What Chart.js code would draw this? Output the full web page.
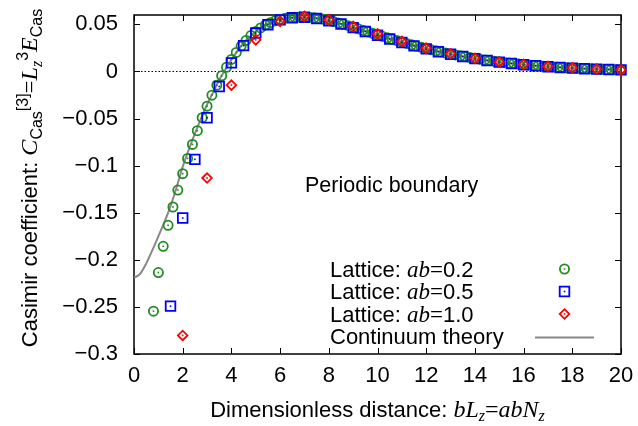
<!DOCTYPE html>
<html>
<head>
<meta charset="utf-8">
<script src="https://cdn.jsdelivr.net/npm/chart.js@4.4.1/dist/chart.umd.min.js"></script>
<style>
  html, body { margin: 0; padding: 0; background: #fff; }
  canvas { display: block; }
</style>
</head>
<body>
<canvas id="casimir" width="638" height="426"></canvas>
<script>
const SANS = '"Liberation Sans", Arial, sans-serif';
const SERIF = '"Liberation Serif", "Times New Roman", serif';

// axis ticks
const xTicks = [0, 2, 4, 6, 8, 10, 12, 14, 16, 18, 20];
const yTicks = [-0.3, -0.25, -0.2, -0.15, -0.1, -0.05, 0, 0.05];
const yTickLabels = ['\u22120.3', '\u22120.25', '\u22120.2', '\u22120.15', '\u22120.1', '\u22120.05', '0', '0.05'];

// Lattice, ab = 0.2
const latt02X = [0.8, 1.0, 1.2, 1.4, 1.6, 1.8, 2.0, 2.2, 2.4, 2.6,
  2.8, 3.0, 3.2, 3.4, 3.6, 3.8, 4.0, 4.2, 4.4, 4.6,
  4.8, 5.0, 5.2, 5.4, 5.6, 5.8, 6.0, 6.2, 6.4, 6.6,
  6.8, 7.0, 7.2, 7.4, 7.6, 7.8, 8.0, 8.2, 8.4, 8.6,
  8.8, 9.0, 9.2, 9.4, 9.6, 9.8, 10.0, 10.2, 10.4, 10.6,
  10.8, 11.0, 11.2, 11.4, 11.6, 11.8, 12.0, 12.2, 12.4, 12.6,
  12.8, 13.0, 13.2, 13.4, 13.6, 13.8, 14.0, 14.2, 14.4, 14.6,
  14.8, 15.0, 15.2, 15.4, 15.6, 15.8, 16.0, 16.2, 16.4, 16.6,
  16.8, 17.0, 17.2, 17.4, 17.6, 17.8, 18.0, 18.2, 18.4, 18.6,
  18.8, 19.0, 19.2, 19.4, 19.6, 19.8, 20.0];
const latt02Y = [-0.2545, -0.2135, -0.1856, -0.1633, -0.1439, -0.1259, -0.1085, -0.0923, -0.0774, -0.0629,
  -0.0491, -0.0368, -0.0251, -0.0145, -0.0045, 0.0045, 0.0128, 0.0203, 0.0270, 0.0330,
  0.0382, 0.0425, 0.0463, 0.0494, 0.0519, 0.0540, 0.0555, 0.0566, 0.0573, 0.0577,
  0.0579, 0.0578, 0.0575, 0.0570, 0.0563, 0.0554, 0.0543, 0.0530, 0.0516, 0.0501,
  0.0486, 0.0470, 0.0454, 0.0438, 0.0422, 0.0406, 0.0390, 0.0374, 0.0358, 0.0343,
  0.0328, 0.0313, 0.0298, 0.0284, 0.0270, 0.0257, 0.0244, 0.0232, 0.0220, 0.0208,
  0.0197, 0.0186, 0.0176, 0.0166, 0.0157, 0.0148, 0.0139, 0.0131, 0.0123, 0.0116,
  0.0109, 0.0102, 0.0096, 0.0090, 0.0084, 0.0079, 0.0074, 0.0069, 0.0065, 0.0060,
  0.0056, 0.0053, 0.0049, 0.0046, 0.0043, 0.0040, 0.0037, 0.0035, 0.0032, 0.0030,
  0.0028, 0.0026, 0.0024, 0.0022, 0.0021, 0.0019, 0.0018];

// Lattice, ab = 0.5
const latt05X = [1.5, 2.0, 2.5, 3.0, 3.5, 4.0, 4.5, 5.0, 5.5, 6.0,
  6.5, 7.0, 7.5, 8.0, 8.5, 9.0, 9.5, 10.0, 10.5, 11.0,
  11.5, 12.0, 12.5, 13.0, 13.5, 14.0, 14.5, 15.0, 15.5, 16.0,
  16.5, 17.0, 17.5, 18.0, 18.5, 19.0, 19.5, 20.0];
const latt05Y = [-0.2492, -0.1556, -0.0933, -0.0491, -0.0159, 0.0092, 0.0275, 0.0408, 0.0497, 0.0548,
  0.0570, 0.0576, 0.0562, 0.0538, 0.0505, 0.0466, 0.0425, 0.0385, 0.0345, 0.0308,
  0.0272, 0.0240, 0.0210, 0.0183, 0.0159, 0.0137, 0.0117, 0.0100, 0.0085, 0.0072,
  0.0061, 0.0051, 0.0043, 0.0036, 0.0030, 0.0025, 0.0021, 0.0017];

// Lattice, ab = 1.0
const latt10X = [2, 3, 4, 5, 6, 7, 8, 9, 10, 11, 12, 13, 14, 15, 16, 17, 18, 19, 20];
const latt10Y = [-0.2803, -0.1131, -0.0145, 0.0336, 0.0533, 0.0586, 0.0548, 0.0480, 0.0400, 0.0320,
  0.0248, 0.0188, 0.0140, 0.0102, 0.0075, 0.0054, 0.0038, 0.0026, 0.0017];

// Continuum theory
const contX = [0, 0.25, 0.5, 0.75, 1, 1.25, 1.5, 1.75, 2, 2.25, 2.5, 2.75, 3, 3.25, 3.5, 3.75, 4,
  4.5, 5, 5.5, 6, 6.5, 7, 7.5, 8, 9, 10, 11, 12, 13, 14, 15, 16, 17, 18, 19, 20];
const contY = [-0.219, -0.215, -0.204, -0.190, -0.175, -0.160, -0.143, -0.123, -0.101, -0.083, -0.066, -0.050, -0.035, -0.022, -0.009, 0.002, 0.0125,
  0.0300, 0.0425, 0.0510, 0.0555, 0.0576, 0.0578, 0.0567, 0.0543, 0.0470, 0.0390, 0.0313, 0.0244, 0.0186, 0.0139, 0.0102, 0.0074, 0.0053, 0.0037, 0.0026, 0.0018];

const GREEN = '#228b22', BLUE = '#0000ff', RED = '#ff0000', GREY = '#888888';

const pts = (xs, ys) => xs.map((x, i) => ({ x: x, y: ys[i] }));

// draw a run of text pieces with different fonts, one after the other
function richWidth(ctx, parts) {
  let w = 0;
  parts.forEach(p => { ctx.font = p[1]; w += ctx.measureText(p[0]).width; });
  return w;
}
function drawRich(ctx, parts, x, y) {
  ctx.textBaseline = 'alphabetic';
  ctx.textAlign = 'left';
  parts.forEach(p => {
    ctx.font = p[1];
    ctx.fillText(p[0], x, y + (p[2] || 0));
    x += ctx.measureText(p[0]).width;
  });
  return x;
}

function marker(ctx, style, color, x, y) {
  ctx.save();
  ctx.strokeStyle = color;
  ctx.fillStyle = color;
  ctx.lineWidth = 1.8;
  ctx.beginPath();
  if (style === 'circle') ctx.arc(x, y, 4.6, 0, Math.PI * 2);
  else if (style === 'rect') ctx.rect(x - 4.8, y - 4.8, 9.6, 9.6);
  else {
    ctx.moveTo(x, y - 4.8); ctx.lineTo(x + 4.8, y); ctx.lineTo(x, y + 4.8); ctx.lineTo(x - 4.8, y);
    ctx.closePath();
  }
  ctx.stroke();
  ctx.fillRect(x - 0.8, y - 0.8, 1.6, 1.6);
  ctx.restore();
}

const decorations = {
  id: 'decorations',
  beforeDatasetsDraw(chart) {
    const ctx = chart.ctx, a = chart.chartArea;
    const xs = chart.scales.x, ys = chart.scales.y;
    ctx.save();
    ctx.strokeStyle = '#000';
    ctx.lineWidth = 1;
    ctx.beginPath();
    xTicks.forEach(v => {
      const px = Math.round(xs.getPixelForValue(v)) + 0.5;
      ctx.moveTo(px, a.bottom); ctx.lineTo(px, a.bottom - 6);
      ctx.moveTo(px, a.top); ctx.lineTo(px, a.top + 6);
    });
    yTicks.forEach(v => {
      const py = Math.round(ys.getPixelForValue(v)) + 0.5;
      ctx.moveTo(a.left, py); ctx.lineTo(a.left + 6, py);
      ctx.moveTo(a.right, py); ctx.lineTo(a.right - 6, py);
    });
    ctx.stroke();
    ctx.lineWidth = 1.5;
    ctx.strokeRect(a.left, a.top, a.right - a.left, a.bottom - a.top);
    ctx.restore();
  },
  afterDatasetDraw(chart, args) {
    const ds = chart.data.datasets[args.index];
    if (!ds.dotColor) return;
    const ctx = chart.ctx;
    ctx.save();
    ctx.fillStyle = ds.dotColor;
    args.meta.data.forEach(el => ctx.fillRect(el.x - 0.8, el.y - 0.8, 1.6, 1.6));
    ctx.restore();
  },
  afterDraw(chart) {
    const ctx = chart.ctx, a = chart.chartArea;
    ctx.save();
    ctx.fillStyle = '#000';

    // in-plot label
    drawRich(ctx, [['Periodic boundary', '21.5px ' + SANS]], 305, 192);

    // legend
    const rows = [
      ['0.2', 'circle', GREEN, 276.5],
      ['0.5', 'rect', BLUE, 299],
      ['1.0', 'diamond', RED, 321.5]
    ];
    rows.forEach(r => {
      ctx.fillStyle = '#000';
      drawRich(ctx, [['Lattice: ', '22px ' + SANS], ['ab', 'italic 23px ' + SERIF], ['=', '23px ' + SERIF], [r[0], '22px ' + SANS]], 330, r[3]);
      marker(ctx, r[1], r[2], 564.5, r[3] - 7.5);
    });
    ctx.fillStyle = '#000';
    drawRich(ctx, [['Continuum theory', '22px ' + SANS]], 330, 344);
    ctx.strokeStyle = GREY;
    ctx.lineWidth = 2;
    ctx.beginPath();
    ctx.moveTo(535, 337.5); ctx.lineTo(594, 337.5);
    ctx.stroke();

    // x axis title
    ctx.fillStyle = '#000';
    const xt = [
      ['Dimensionless distance: ', '22px ' + SANS],
      ['bL', 'italic 24px ' + SERIF],
      ['z', 'italic 16px ' + SERIF, 4],
      ['=', '24px ' + SERIF],
      ['abN', 'italic 24px ' + SERIF],
      ['z', 'italic 16px ' + SERIF, 4]
    ];
    drawRich(ctx, xt, (a.left + a.right) / 2 - richWidth(ctx, xt) / 2, 417);

    // y axis title, rotated
    const yt = [
      ['Casimir coefficient: ', '22px ' + SANS],
      ['C', 'italic 24px ' + SERIF],
      ['Cas', '16px ' + SANS, 5],
      ['[3]', '16px ' + SANS, -9],
      ['=', '23px ' + SERIF],
      ['L', 'italic 24px ' + SERIF],
      ['z', 'italic 16px ' + SERIF, 5],
      ['3', '16px ' + SANS, -9],
      ['E', 'italic 24px ' + SERIF],
      ['Cas', '16px ' + SANS, 5]
    ];
    ctx.translate(37, 0);
    ctx.rotate(-Math.PI / 2);
    const w = richWidth(ctx, yt);
    drawRich(ctx, yt, -(178 + w / 2), 0);
    ctx.restore();
  }
};

new Chart(document.getElementById('casimir'), {
  type: 'scatter',
  data: {
    datasets: [
      {
        type: 'line',
        data: [{ x: 0, y: 0 }, { x: 20, y: 0 }],
        borderColor: '#000',
        borderWidth: 1,
        borderDash: [1.5, 2],
        pointRadius: 0,
        order: 10
      },
      {
        type: 'line',
        label: 'Continuum theory',
        data: pts(contX, contY),
        borderColor: GREY,
        borderWidth: 2,
        pointRadius: 0,
        cubicInterpolationMode: 'monotone',
        order: 5
      },
      {
        label: 'Lattice: ab=0.2',
        data: pts(latt02X, latt02Y),
        pointStyle: 'circle',
        pointRadius: 4.6,
        pointBorderWidth: 1.8,
        borderColor: GREEN,
        backgroundColor: 'rgba(0,0,0,0)',
        dotColor: GREEN,
        clip: false,
        order: 3
      },
      {
        label: 'Lattice: ab=0.5',
        data: pts(latt05X, latt05Y),
        pointStyle: 'rect',
        pointRadius: 6.8,
        pointBorderWidth: 1.8,
        borderColor: BLUE,
        backgroundColor: 'rgba(0,0,0,0)',
        dotColor: BLUE,
        clip: false,
        order: 2
      },
      {
        label: 'Lattice: ab=1.0',
        data: pts(latt10X, latt10Y),
        pointStyle: 'rectRot',
        pointRadius: 4.8,
        pointBorderWidth: 1.8,
        borderColor: RED,
        backgroundColor: 'rgba(0,0,0,0)',
        dotColor: RED,
        clip: false,
        order: 1
      }
    ]
  },
  options: {
    responsive: false,
    animation: false,
    devicePixelRatio: 1,
    layout: { padding: { top: 15, right: 17, left: 0, bottom: 0 } },
    plugins: {
      legend: { display: false },
      tooltip: { enabled: false }
    },
    scales: {
      x: {
        type: 'linear',
        min: 0,
        max: 20,
        afterBuildTicks: s => { s.ticks = xTicks.map(v => ({ value: v })); },
        afterFit: s => { s.height = 72; s.paddingLeft = 0; s.paddingRight = 0; },
        ticks: { font: { family: SANS, size: 22 }, color: '#000', padding: 9, maxRotation: 0 },
        grid: { display: false, drawTicks: false },
        border: { display: false }
      },
      y: {
        type: 'linear',
        min: -0.3,
        max: 0.06,
        afterBuildTicks: s => { s.ticks = yTicks.map(v => ({ value: v })); },
        afterFit: s => { s.width = 134; s.paddingTop = 0; s.paddingBottom = 0; },
        ticks: {
          font: { family: SANS, size: 22 },
          color: '#000',
          padding: 16,
          callback: (v, i) => yTickLabels[i]
        },
        grid: { display: false, drawTicks: false },
        border: { display: false }
      }
    }
  },
  plugins: [decorations]
});
</script>
</body>
</html>
